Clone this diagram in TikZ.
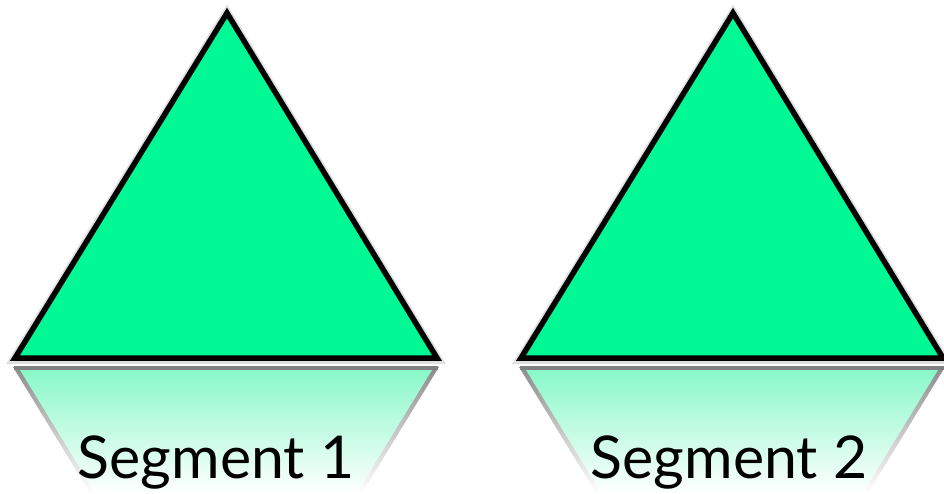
\documentclass[tikz,border=0pt]{standalone}
\usepackage{fontspec}
\setmainfont{Lato}
\definecolor{trigreen}{RGB}{0,249,148}
\definecolor{reflgreen}{RGB}{135,248,200}
\begin{document}
\begin{tikzpicture}[x=1pt,y=-1pt,
  tri/.style={fill=trigreen,draw=black,line width=5.5pt,line join=miter},
  triShadow/.style={draw=black!25,line width=10pt,line join=miter,opacity=0.5},
  refl/.style={top color=reflgreen,bottom color=white,draw=none},
  reflBase/.style={draw=black!50,line width=4pt},
  label/.style={font=\fontsize{59}{59}\selectfont,anchor=base,inner sep=0pt}]
\useasboundingbox (0,0) rectangle (944,493);
% reflections
\foreach \dx in {0,506}{
  \begin{scope}[xshift=\dx]
    \shade[refl] (15,368) -- (437,368) -- (360,493) -- (92,493) -- cycle;
    \shade[top color=black!45,bottom color=white] (13,367) -- (18,367) -- (95,493) -- (90,493) -- cycle;
    \shade[top color=black!45,bottom color=white] (439,367) -- (434,367) -- (357,493) -- (362,493) -- cycle;
    \draw[reflBase] (14,368) -- (438,368);
  \end{scope}
}
% triangles
\foreach \dx in {0,506}{
  \begin{scope}[xshift=\dx]
    \draw[triShadow] (227,14) -- (437,359) -- (15,359) -- cycle;
    \draw[tri] (227,13) -- (437,358) -- (15,358) -- cycle;
  \end{scope}
}
\node[label] (s1) at (216,478) {Segment 1};
\node[label] (s2) at (729,478) {Segment 2};
\end{tikzpicture}
\end{document}
